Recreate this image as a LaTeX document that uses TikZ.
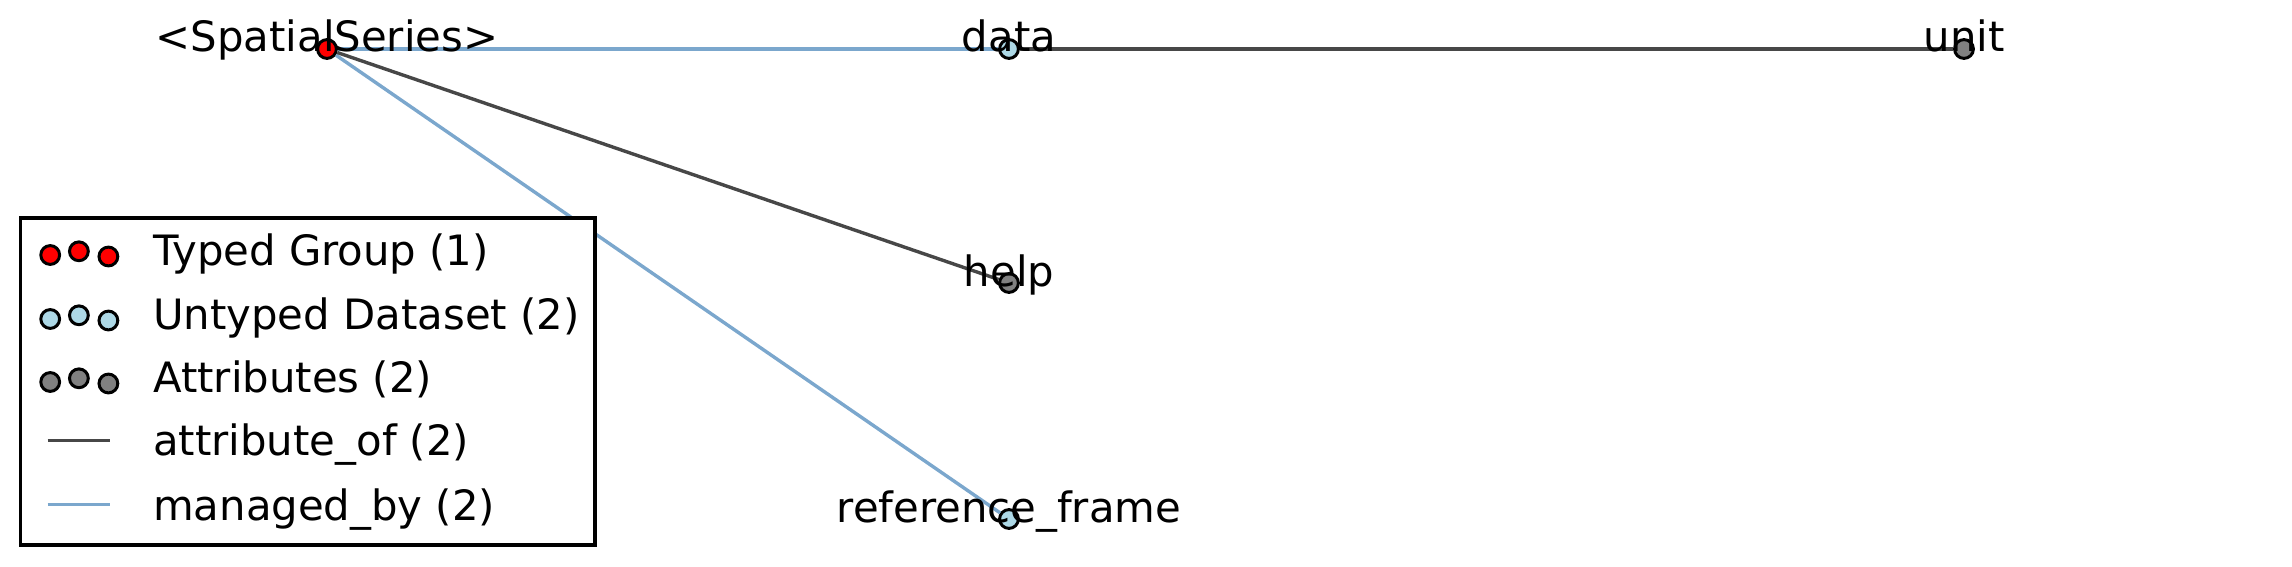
\documentclass[tikz,border=0pt]{standalone}
\usepackage{fontspec}
\setmainfont{DejaVu Sans}
\definecolor{attrline}{HTML}{474747}
\definecolor{mgdline}{HTML}{7BA7CD}
\definecolor{dsfill}{HTML}{ADD8E6}
\definecolor{grpfill}{HTML}{FF0000}
\definecolor{atfill}{HTML}{808080}
\tikzset{
  dot/.style={circle, draw=black, line width=3pt, minimum size=18.8pt, inner sep=0pt},
  grp/.style={dot, fill=grpfill},
  dset/.style={dot, fill=dsfill},
  attr/.style={dot, fill=atfill},
  attrof/.style={draw=attrline, line width=3.4pt},
  mgd/.style={draw=mgdline, line width=3.4pt},
  lbl/.style={anchor=base, inner sep=0pt, font=\fontsize{41.8}{50}\selectfont},
  legtxt/.style={anchor=base west, inner sep=0pt, font=\fontsize{41.8}{50}\selectfont},
  legbox/.style={draw=black, line width=3.4pt, fill=white}
}
\begin{document}
\begin{tikzpicture}[x=1pt,y=-1pt]
\useasboundingbox (0,0) rectangle (2292,567);
% nodes
\node[grp]  (SS)   at (327,49)  {};
\node[dset] (data) at (1009,49) {};
\node[attr] (unit) at (1964,49) {};
\node[attr] (help) at (1009,283) {};
\node[dset] (ref)  at (1009,519) {};
% edges
\draw[mgd] (SS) -- (data);
\draw[mgd] (SS) -- (ref);
\draw[attrof] (SS) -- (help);
\draw[attrof] (data) -- (unit);
% labels
\node[lbl] (tSS)   at (327,52)  {<SpatialSeries>};
\node[lbl] (tdata) at (1009,52) {data};
\node[lbl] (tunit) at (1964,52) {unit};
\node[lbl] (thelp) at (1009,286) {help};
\node[lbl] (tref)  at (1009,522) {reference\_frame};
% legend
\draw[legbox] (20.5,218) rectangle (595,545);
\node[grp] (g1) at (50.2,255) {};
\node[grp] (g2) at (78.9,251.3) {};
\node[grp] (g3) at (108.4,256.5) {};
\node[legtxt] (tg) at (153,265) {Typed Group (1)};
\node[dset] (d1) at (50.2,319) {};
\node[dset] (d2) at (78.9,315.3) {};
\node[dset] (d3) at (108.4,320.5) {};
\node[legtxt] (td) at (153,329) {Untyped Dataset (2)};
\node[attr] (a1) at (50.2,382) {};
\node[attr] (a2) at (78.9,378.3) {};
\node[attr] (a3) at (108.4,383.5) {};
\node[legtxt] (ta) at (153,392) {Attributes (2)};
\coordinate (ao1) at (47.5,440.7);
\coordinate (ao2) at (110.3,440.7);
\draw[attrof] (ao1) -- (ao2);
\node[legtxt] (tao) at (153,455.7) {attribute\_of (2)};
\coordinate (mb1) at (47.5,504.7);
\coordinate (mb2) at (110.3,504.7);
\draw[mgd] (mb1) -- (mb2);
\node[legtxt] (tmb) at (153,520) {managed\_by (2)};
\end{tikzpicture}
\end{document}
